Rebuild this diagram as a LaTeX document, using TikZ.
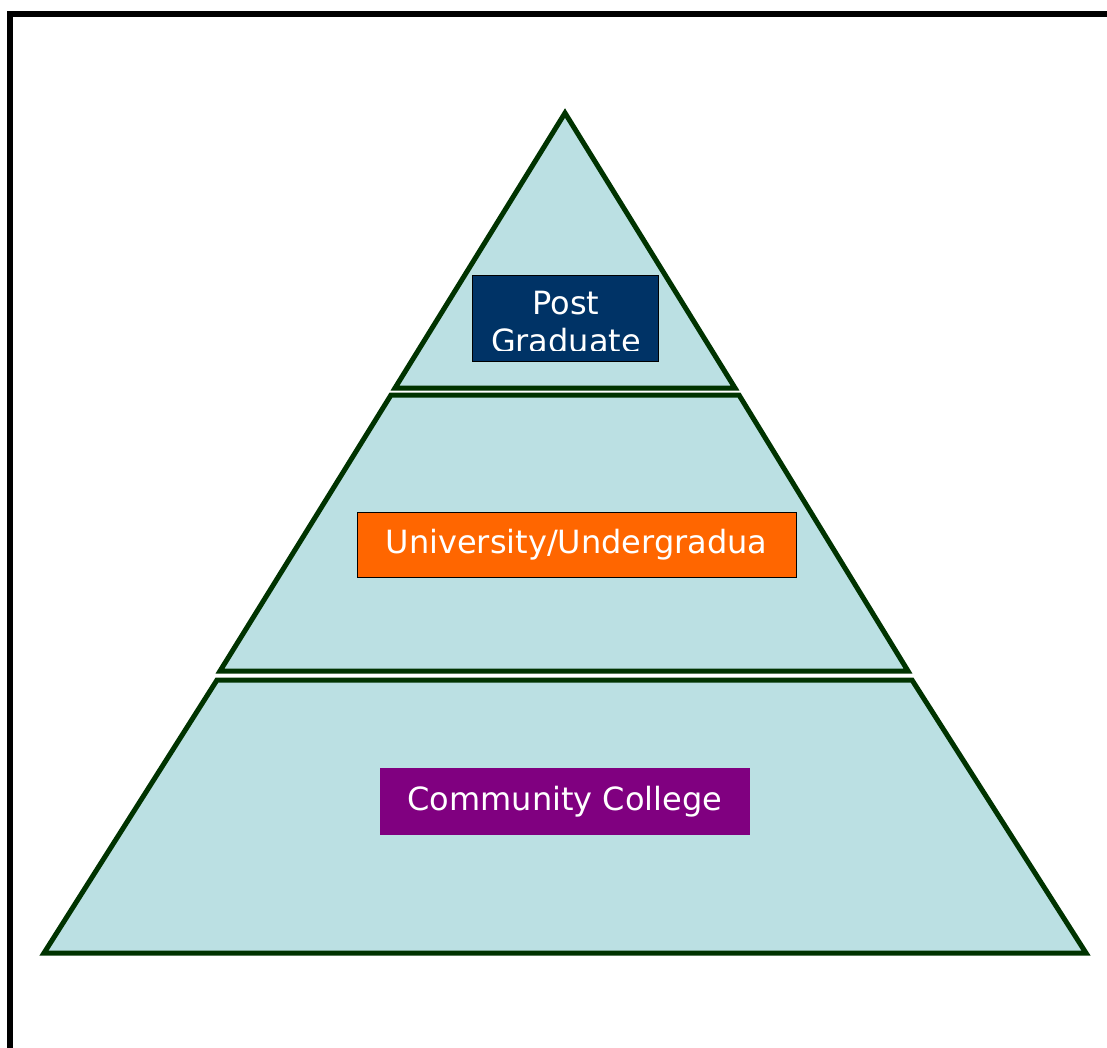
\documentclass[tikz,border=0pt]{standalone}
\usepackage{fontspec}
\setmainfont{DejaVu Sans}
\definecolor{tierfill}{HTML}{BBE0E3}
\definecolor{tierline}{HTML}{003300}
\definecolor{postblue}{HTML}{003366}
\definecolor{uniorange}{HTML}{FF6600}
\definecolor{ccpurple}{HTML}{800080}
\begin{document}
\begin{tikzpicture}[x=0.5pt, y=-0.5pt]
        \tikzstyle{tierstyle}=[draw=tierline, fill=tierfill, line width=2.5pt, line join=miter]
        \tikzstyle{boxstyle}=[shape=rectangle, inner sep=0pt, text=white, font=\fontsize{16}{19}\selectfont]
        \clip (0, 0) rectangle (1107, 1048);

        % draw the black frame round the slide
        \draw[line width=3pt] (10, 1100) -- (10, 14) -- (1150, 14);

        % draw the three tiers of the pyramid, bottom first
        \draw[tierstyle] (217, 680) -- (912, 680) -- (1086, 953) -- (44, 953) -- cycle;
        \draw[tierstyle] (391, 395) -- (739, 395) -- (908, 671) -- (220, 671) -- cycle;
        \draw[tierstyle] (565, 113) -- (735, 388) -- (395, 388) -- cycle;

        % draw the label of the top tier, its text cut off by the box
        \node[boxstyle, draw=black, line width=0.5pt, fill=postblue, minimum width=93pt, minimum height=43pt] at (565, 318) (PG) {};
        \begin{scope}
            \clip (PG.north west) rectangle ([yshift=5.5pt]PG.south east);
            \node[boxstyle, align=center, anchor=base] at (566, 352) (PGtext) {Post\\Graduate};
        \end{scope}

        % draw the label of the middle tier
        \node[boxstyle, draw=black, line width=0.5pt, fill=uniorange, minimum width=219.5pt, minimum height=32.5pt] at (576.5, 544.5) (UG) {University/Undergradua};

        % draw the label of the bottom tier
        \node[boxstyle, fill=ccpurple, minimum width=185pt, minimum height=33.5pt] at (565, 801.5) (CC) {Community College};
    \end{tikzpicture}
\end{document}
